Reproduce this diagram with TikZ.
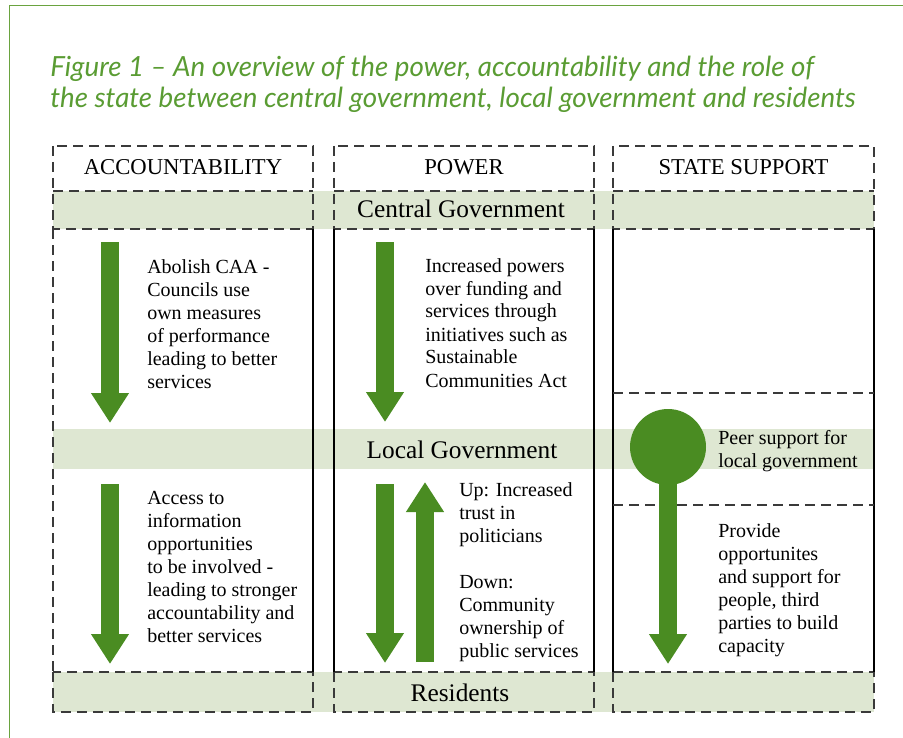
\documentclass[tikz,border=0pt]{standalone}
\usepackage{fontspec}
\setmainfont{Liberation Serif}
\newfontfamily\titlefont{Lato}
\usetikzlibrary{arrows.meta}

\definecolor{framegreen}{HTML}{6AA33F}
\definecolor{titlegreen}{HTML}{5A9C33}
\definecolor{bandgreen}{HTML}{DEE7D2}
\definecolor{arrowgreen}{HTML}{4A8C22}
\definecolor{dashgray}{HTML}{3A3A3A}

\newcommand\txtblock[1]{\begin{tabular}[t]{@{}l@{}}#1\end{tabular}}

\tikzset{
  band/.style={fill=bandgreen, draw=none},
  dashline/.style={draw=dashgray, line width=1pt, dash pattern=on 7.5pt off 4.5pt},
  solidline/.style={draw=black, line width=1.5pt},
  blockarrow/.style={draw=arrowgreen, line width=13.5pt,
    -{Triangle[length=22.5pt, width=27pt]}},
  headtext/.style={anchor=base, inner sep=0pt, font=\fontsize{17}{20}\selectfont},
  bandtext/.style={anchor=base, inner sep=0pt, font=\fontsize{19}{22}\selectfont},
  bodytext/.style={anchor=base west, inner sep=0pt, font=\fontsize{15}{17.25}\selectfont},
  titletext/.style={anchor=base west, inner sep=0pt, text=titlegreen,
    font=\titlefont\itshape\fontsize{20.8}{24}\selectfont},
}

\begin{document}
\begin{tikzpicture}[x=0.75pt, y=-0.75pt]
\useasboundingbox (0,0) rectangle (903,738);

% outer frame
\draw[framegreen, line width=1.3pt] (9.5,738) -- (9.5,5.5) -- (903,5.5);

% title
\node[titletext] (title1) at (50,77) {Figure 1 – An overview of the power, accountability and the role of};
\node[titletext] (title2) at (50,108) {the state between central government, local government and residents};

% shaded bands
\fill[band] (53,191) rectangle (874,229);
\fill[band] (53,429) rectangle (874,469);
\fill[band] (53,672) rectangle (874,712);

% column heads (dashed)
\foreach \l/\r in {53/313, 334/594, 613/874}{
  \draw[dashline] (\l,146) rectangle (\r,229);
  \draw[dashline] (\l,191) -- (\r,191);
  \draw[dashline] (\l,672) rectangle (\r,712);
}

% column bodies
\draw[dashline] (53,229) -- (53,672);
\draw[solidline] (313,229) -- (313,672);
\draw[solidline] (334,229) -- (334,672);
\draw[solidline] (594,229) -- (594,672);
\draw[solidline] (613,229) -- (613,672);
\draw[solidline] (874,229) -- (874,672);
\draw[dashline] (613,393) -- (874,393);
\draw[dashline] (613,505) -- (874,505);

% headings and level labels
\node[headtext] (hacc) at (183,175) {ACCOUNTABILITY};
\node[headtext] (hpow) at (464,175) {POWER};
\node[headtext] (hsta) at (743.5,175) {STATE SUPPORT};
\node[bandtext] (central) at (461,218) {Central Government};
\node[bandtext] (local) at (462,458.5) {Local Government};
\node[bandtext] (residents) at (460,701) {Residents};

% arrow end points
\coordinate (accTopS) at (110,242);
\coordinate (accTopE) at (110,423);
\coordinate (accBotS) at (110,484);
\coordinate (accBotE) at (110,664);
\coordinate (powTopS) at (385,242);
\coordinate (powTopE) at (385,422);
\coordinate (powDownS) at (385,484);
\coordinate (powDownE) at (385,663);
\coordinate (powUpS) at (425,662);
\coordinate (powUpE) at (425,482);
\coordinate (staE) at (668,664);

% arrows
\draw[blockarrow] (accTopS) -- (accTopE);
\draw[blockarrow] (accBotS) -- (accBotE);
\draw[blockarrow] (powTopS) -- (powTopE);
\draw[blockarrow] (powDownS) -- (powDownE);
\draw[blockarrow] (powUpS) -- (powUpE);
\node[circle, fill=arrowgreen, minimum size=57pt, inner sep=0pt] (peer) at (668,447) {};
\draw[blockarrow] (peer.center) -- (staE);

% descriptions
\node[bodytext] (accTopTxt) at (147,273) {\txtblock{Abolish CAA -\\Councils use\\own measures\\of performance\\leading to better\\services}};
\node[bodytext] (accBotTxt) at (147,504.3) {\txtblock{Access to\\information\\opportunities\\to be involved -\\leading to stronger\\accountability and\\better services}};
\node[bodytext] (powTopTxt) at (425,272) {\txtblock{Increased powers\\over funding and\\services through\\initiatives such as\\Sustainable\\Communities Act}};
\node[bodytext] (powBotTxt) at (459,496.7) {\txtblock{Up: Increased\\trust in\\politicians\\ \\Down:\\Community\\ownership of\\public services}};
\node[bodytext] (peerTxt) at (718,444) {\txtblock{Peer support for\\local government}};
\node[bodytext] (staTxt) at (718,537) {\txtblock{Provide\\opportunites\\and support for\\people, third\\parties to build\\capacity}};
\end{tikzpicture}
\end{document}
